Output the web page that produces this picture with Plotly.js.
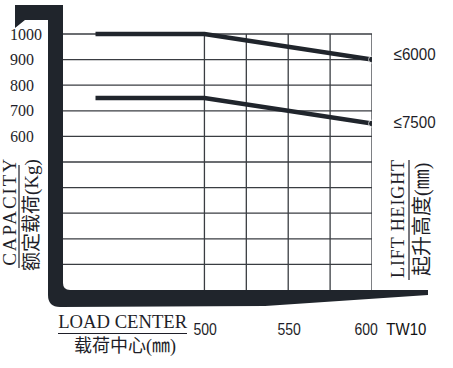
<!DOCTYPE html>
<html>
<head>
<meta charset="utf-8">
<script src="https://cdn.plot.ly/plotly-3.0.1.min.js"></script>
<style>html,body{margin:0;padding:0;background:#fff;}#chart{width:453px;height:368px;}</style>
</head>
<body>
<div id="chart"></div>
<script>
// ---- data ----
const loadCenter = [435, 500, 600];
const cap6000 = [1000, 1000, 900];
const cap7500 = [750, 750, 650];
const seriesNames = ['≤6000', '≤7500'];
const yTickVals = [600, 700, 800, 900, 1000];
const yTickText = ['600', '700', '800', '900', '1000'];
const xTickVals = [500, 550, 600];
const xTickText = ['500', '550', '600'];
const xGridVals = [500, 525, 550, 575, 600];
const yGridVals = [100, 200, 300, 400, 500, 600, 700, 800, 900, 1000];
const modelName = 'TW10';
const yTitleEn = 'CAPACITY';
const yTitleZh = '额定载荷(Kg)';
const xTitleEn = 'LOAD CENTER';
const xTitleZh = '载荷中心(㎜)';
const rTitleEn = 'LIFT HEIGHT';
const rTitleZh = '起升高度(㎜)';

// ---- layout helpers ----
const W = 453, H = 368, ML = 63, MR = 81, MT = 24, MB = 78;
const PW = W - ML - MR, PH = H - MT - MB;
const px = x => (x - ML) / PW;
const py = y => (H - MB - y) / PH;
const XMIN = 415.6, XMAX = 600;
const YMAX = 1000 * PH / 256;

const ink = '#20252c';
const textCol = '#1e1e28';
const serif = 'Liberation Serif, Times New Roman, serif';
const sans = 'Liberation Sans, Arial, sans-serif';
const cjk = 'Liberation Serif, Noto Sans CJK SC, serif';

const traces = [cap6000, cap7500].map((ys, i) => ({
  type: 'scatter', mode: 'lines+markers', x: loadCenter, y: ys, name: seriesNames[i],
  line: {color: ink, width: 4.5}, marker: {color: ink, size: ys.map((v, k) => k === ys.length - 1 ? 7 : 0)},
  hoverinfo: 'skip', showlegend: false
}));

const shapes = [];
xGridVals.forEach(v => shapes.push({type: 'line', xref: 'x', yref: 'y', x0: v, x1: v, y0: 0, y1: 1000,
  line: {color: '#3a3d42', width: 1.3}, layer: 'below'}));
yGridVals.forEach(v => shapes.push({type: 'line', xref: 'x', yref: 'y', x0: XMIN, x1: 600, y0: v, y1: v,
  line: {color: '#3a3d42', width: 1.3}, layer: 'below'}));

// fork outline (decorative frame), pixel points converted to paper space
function P(x, y) { return px(x).toFixed(4) + ',' + py(y).toFixed(4); }
const forkPath = 'M' + P(15, 5) + ' L' + P(63, 5) + ' L' + P(63, 283) +
  ' Q' + P(63, 290) + ' ' + P(70, 290) + ' L' + P(428, 290) + ' L' + P(428, 295) +
  ' L' + P(265, 306) + ' L' + P(60, 307) + ' Q' + P(48, 307) + ' ' + P(48, 295) +
  ' L' + P(48, 20) + ' L' + P(25, 20) + ' L' + P(15, 28) + ' Z';
shapes.push({type: 'path', xref: 'paper', yref: 'paper', path: forkPath,
  fillcolor: ink, line: {width: 0}, layer: 'above'});
// fraction bars of titles
shapes.push({type: 'line', xref: 'paper', yref: 'paper', x0: px(19), x1: px(19), y0: py(165), y1: py(268), line: {color: textCol, width: 1.2}});
shapes.push({type: 'line', xref: 'paper', yref: 'paper', x0: px(409), x1: px(409), y0: py(160), y1: py(280), line: {color: textCol, width: 1.2}});
shapes.push({type: 'line', xref: 'paper', yref: 'paper', x0: px(58), x1: px(187), y0: py(333.5), y1: py(333.5), line: {color: textCol, width: 1.2}});

const ann = [];
const fitLen = {}; // text -> [length, adjust]
yTickVals.forEach((v, i) => ann.push({xref: 'paper', yref: 'y', x: px(8), y: v, text: yTickText[i],
  xanchor: 'left', yanchor: 'middle', showarrow: false, font: {family: serif, size: 16, color: textCol}}));
xTickVals.forEach((v, i) => {
  ann.push({xref: 'x', yref: 'paper', x: v, y: py(329), text: xTickText[i], xshift: i === xTickVals.length - 1 ? -6 : 1,
    xanchor: 'center', yanchor: 'middle', showarrow: false, font: {family: sans, size: 17, color: textCol}});
  fitLen[xTickText[i]] = [23.4, 'spacingAndGlyphs'];
});
ann.push({xref: 'paper', yref: 'paper', x: px(406.5), y: py(329), text: modelName, xanchor: 'center', yanchor: 'middle',
  showarrow: false, font: {family: sans, size: 16, color: '#111'}});
fitLen[modelName] = [40, 'spacingAndGlyphs'];
[54, 122].forEach((yy, i) => {
  ann.push({xref: 'paper', yref: 'paper', x: px(389), y: py(yy), text: seriesNames[i],
    xanchor: 'left', yanchor: 'middle', showarrow: false, font: {family: sans, size: 17, color: textCol}});
  fitLen[seriesNames[i]] = [42, 'spacingAndGlyphs'];
});
ann.push({xref: 'paper', yref: 'paper', x: px(9), y: py(212), text: yTitleEn, textangle: -90, xanchor: 'center', yanchor: 'middle',
  showarrow: false, font: {family: serif, size: 19, color: textCol}});
fitLen[yTitleEn] = [107, 'spacing'];
ann.push({xref: 'paper', yref: 'paper', x: px(32), y: py(215), text: yTitleZh, textangle: -90, xanchor: 'center', yanchor: 'middle',
  showarrow: false, font: {family: cjk, size: 19, color: textCol}});
ann.push({xref: 'paper', yref: 'paper', x: px(397.5), y: py(219), text: rTitleEn, textangle: -90, xanchor: 'center', yanchor: 'middle',
  showarrow: false, font: {family: serif, size: 18, color: textCol}});
fitLen[rTitleEn] = [118, 'spacing'];
ann.push({xref: 'paper', yref: 'paper', x: px(422), y: py(220), text: rTitleZh, textangle: -90, xanchor: 'center', yanchor: 'middle',
  showarrow: false, font: {family: cjk, size: 20, color: textCol}});
ann.push({xref: 'paper', yref: 'paper', x: px(122.5), y: py(321.5), text: xTitleEn, xanchor: 'center', yanchor: 'middle',
  showarrow: false, font: {family: serif, size: 19, color: textCol}});
fitLen[xTitleEn] = [129, 'spacingAndGlyphs'];
ann.push({xref: 'paper', yref: 'paper', x: px(124.5), y: py(346), text: xTitleZh, xanchor: 'center', yanchor: 'middle',
  showarrow: false, font: {family: cjk, size: 18, color: textCol}});

const layout = {
  width: W, height: H, margin: {l: ML, r: MR, t: MT, b: MB, pad: 0},
  paper_bgcolor: '#fff', plot_bgcolor: 'rgba(0,0,0,0)', showlegend: false,
  xaxis: {range: [XMIN, XMAX], showgrid: false, zeroline: false, showticklabels: false, showline: false, fixedrange: true},
  yaxis: {range: [0, YMAX], showgrid: false, zeroline: false, showticklabels: false, showline: false, fixedrange: true},
  shapes: shapes, annotations: ann
};
Plotly.newPlot('chart', traces, layout, {displayModeBar: false, staticPlot: true}).then(gd => {
  gd.querySelectorAll('text.annotation-text').forEach(t => {
    const f = fitLen[t.textContent];
    if (f) { t.setAttribute('textLength', f[0]); t.setAttribute('lengthAdjust', f[1]); }
  });
});
</script>
</body>
</html>
